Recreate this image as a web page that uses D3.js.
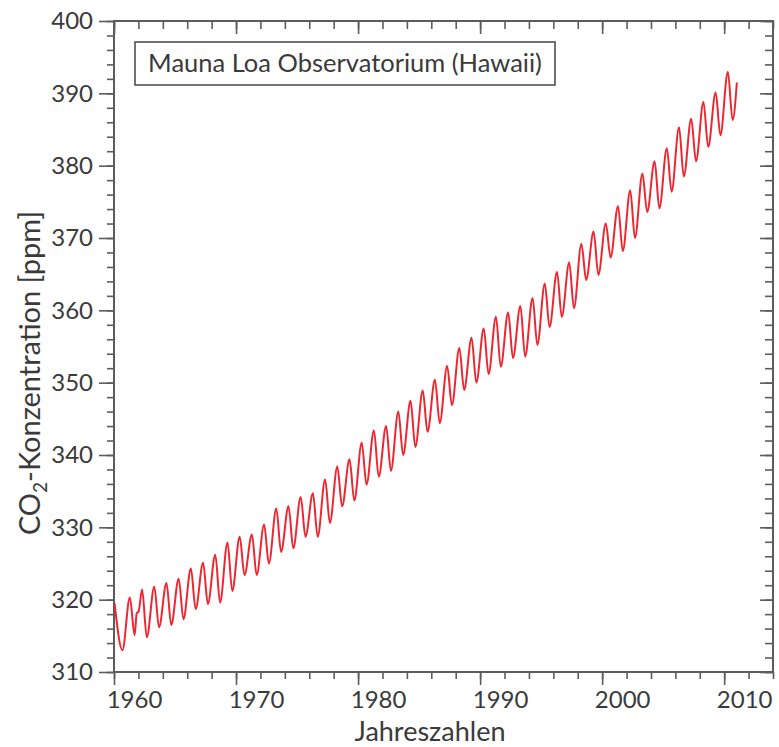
<!DOCTYPE html>
<html>
<head>
<meta charset="utf-8">
<script src="https://cdn.jsdelivr.net/npm/d3@7"></script>
<style>
  body { margin: 0; background: #fff; }
  svg { display: block; font-family: Lato, "Open Sans", sans-serif; }
</style>
</head>
<body>
<svg id="chart" width="779" height="747"></svg>
<script>
// Mauna Loa CO2, turning points
var troughYears = [1960, 1961, 1962, 1963, 1964, 1965, 1966, 1967, 1968, 1969,
  1970, 1971, 1972, 1973, 1974, 1975, 1976, 1977, 1978, 1979,
  1980, 1981, 1982, 1983, 1984, 1985, 1986, 1987, 1988, 1989,
  1990, 1991, 1992, 1993, 1994, 1995, 1996, 1997, 1998, 1999,
  2000, 2001, 2002, 2003, 2004, 2005, 2006, 2007, 2008, 2009, 2010];
var troughPpm = [313.0, 315.1, 314.8, 316.2, 316.5, 317.3, 318.7, 319.4, 319.6, 321.2,
  323.4, 323.4, 325.0, 326.6, 327.1, 328.7, 328.7, 330.6, 332.9, 333.7,
  335.9, 337.0, 337.8, 340.0, 341.1, 343.2, 344.4, 346.9, 349.0, 350.0,
  351.2, 352.2, 353.4, 353.6, 355.2, 357.7, 359.1, 360.3, 364.2, 364.9,
  367.3, 368.2, 370.0, 373.6, 374.1, 376.4, 378.5, 380.6, 382.6, 384.2, 386.3];
var peakYears = [1961, 1962, 1963, 1964, 1965, 1966, 1967, 1968, 1969,
  1970, 1971, 1972, 1973, 1974, 1975, 1976, 1977, 1978, 1979,
  1980, 1981, 1982, 1983, 1984, 1985, 1986, 1987, 1988, 1989,
  1990, 1991, 1992, 1993, 1994, 1995, 1996, 1997, 1998, 1999,
  2000, 2001, 2002, 2003, 2004, 2005, 2006, 2007, 2008, 2009, 2010];
var peakPpm = [320.3, 321.4, 321.8, 322.3, 322.9, 324.3, 325.1, 326.2, 327.9,
  328.7, 329.0, 330.4, 332.6, 332.9, 334.2, 334.7, 336.6, 338.4, 339.4,
  341.7, 343.4, 344.0, 346.0, 347.5, 348.9, 350.4, 352.3, 354.8, 356.2,
  357.5, 359.1, 359.7, 360.6, 361.7, 363.7, 365.3, 366.6, 369.2, 370.9,
  372.0, 374.4, 376.6, 378.9, 380.6, 382.4, 385.3, 386.5, 388.8, 390.1, 393.0];
var peakPhase = 0.3, troughPhase = 0.69;   // fraction of year
var extraTimes = [1960.05, 1961.86, 1962.02, 2011.04];
var extraPpm = [319.5, 318.1, 318.4, 391.5];

var xTickLabels = [1960, 1970, 1980, 1990, 2000, 2010];
var yTickLabels = [310, 320, 330, 340, 350, 360, 370, 380, 390, 400];

var axisColor = "#5c5c5c", textColor = "#3a3a3a";

var points = [];
troughYears.forEach(function (yr, i) { points.push({t: yr + troughPhase, v: troughPpm[i]}); });
peakYears.forEach(function (yr, i) { points.push({t: yr + peakPhase, v: peakPpm[i]}); });
extraTimes.forEach(function (t, i) { points.push({t: t, v: extraPpm[i]}); });
points.sort(function (a, b) { return a.t - b.t; });

var svg = d3.select("#chart");

var x = d3.scaleLinear().domain([1960, 2014]).range([114, 773]);
var y = d3.scaleLinear().domain([310, 400]).range([672, 21]);

var xMinor = d3.range(1960, 2015, 2);
var yMinor = d3.range(310, 401, 2);

function styleAxis(g) {
  g.select(".domain").remove();
  g.selectAll("line").attr("stroke", axisColor).attr("stroke-width", 1.6);
  g.selectAll("text").attr("fill", textColor).style("font-size", "24px")
    .style("font-family", "Lato, 'Open Sans', sans-serif");
}

// bottom axis (outward ticks)
svg.append("g").attr("transform", "translate(0,672)")
  .call(d3.axisBottom(x).tickValues(xMinor).tickSize(7).tickFormat(""))
  .call(styleAxis);
svg.append("g").attr("transform", "translate(0,672)")
  .call(d3.axisBottom(x).tickValues(xTickLabels).tickSize(13).tickPadding(6).tickFormat(d3.format("d")))
  .call(styleAxis)
  .selectAll("text").attr("dx", 20);

// top axis (inward ticks)
svg.append("g").attr("transform", "translate(0,21)")
  .call(d3.axisBottom(x).tickValues(xMinor).tickSize(8).tickFormat(""))
  .call(styleAxis);
svg.append("g").attr("transform", "translate(0,21)")
  .call(d3.axisBottom(x).tickValues(xTickLabels).tickSize(13).tickFormat(""))
  .call(styleAxis);

// left axis (outward ticks)
svg.append("g").attr("transform", "translate(114,0)")
  .call(d3.axisLeft(y).tickValues(yMinor).tickSize(7).tickFormat(""))
  .call(styleAxis);
svg.append("g").attr("transform", "translate(114,0)")
  .call(d3.axisLeft(y).tickValues(yTickLabels).tickSize(15).tickPadding(6))
  .call(styleAxis);

// right axis (inward ticks)
svg.append("g").attr("transform", "translate(773,0)")
  .call(d3.axisLeft(y).tickValues(yMinor).tickSize(8).tickFormat(""))
  .call(styleAxis);
svg.append("g").attr("transform", "translate(773,0)")
  .call(d3.axisLeft(y).tickValues(yTickLabels).tickSize(13).tickFormat(""))
  .call(styleAxis);

// frame
svg.append("rect")
  .attr("x", 114).attr("y", 21).attr("width", 773 - 114).attr("height", 672 - 21)
  .attr("fill", "none").attr("stroke", axisColor).attr("stroke-width", 2);

// CO2 curve
var line = d3.line()
  .x(function (d) { return x(d.t); })
  .y(function (d) { return y(d.v); })
  .curve(d3.curveMonotoneX);

svg.append("path")
  .datum(points)
  .attr("d", line)
  .attr("fill", "none")
  .attr("stroke", "#ef2630")
  .attr("stroke-width", 2)
  .attr("stroke-linejoin", "round");

// station box
svg.append("rect")
  .attr("x", 135).attr("y", 42).attr("width", 420).attr("height", 43)
  .attr("fill", "#fff").attr("stroke", "#444").attr("stroke-width", 1.5);
svg.append("text")
  .attr("x", 345).attr("y", 72)
  .attr("text-anchor", "middle")
  .attr("fill", textColor)
  .style("font-size", "25.5px")
  .text("Mauna Loa Observatorium (Hawaii)");

// axis titles
svg.append("text")
  .attr("x", 430).attr("y", 741)
  .attr("text-anchor", "middle")
  .attr("fill", textColor)
  .style("font-size", "27px")
  .text("Jahreszahlen");

var yTitle = svg.append("text")
  .attr("transform", "translate(40,373) rotate(-90)")
  .attr("text-anchor", "middle")
  .attr("fill", textColor)
  .style("font-size", "29px");
yTitle.append("tspan").text("CO");
yTitle.append("tspan").attr("dy", 7).style("font-size", "19px").text("2");
yTitle.append("tspan").attr("dy", -7).text("-Konzentration [ppm]");
</script>
</body>
</html>
